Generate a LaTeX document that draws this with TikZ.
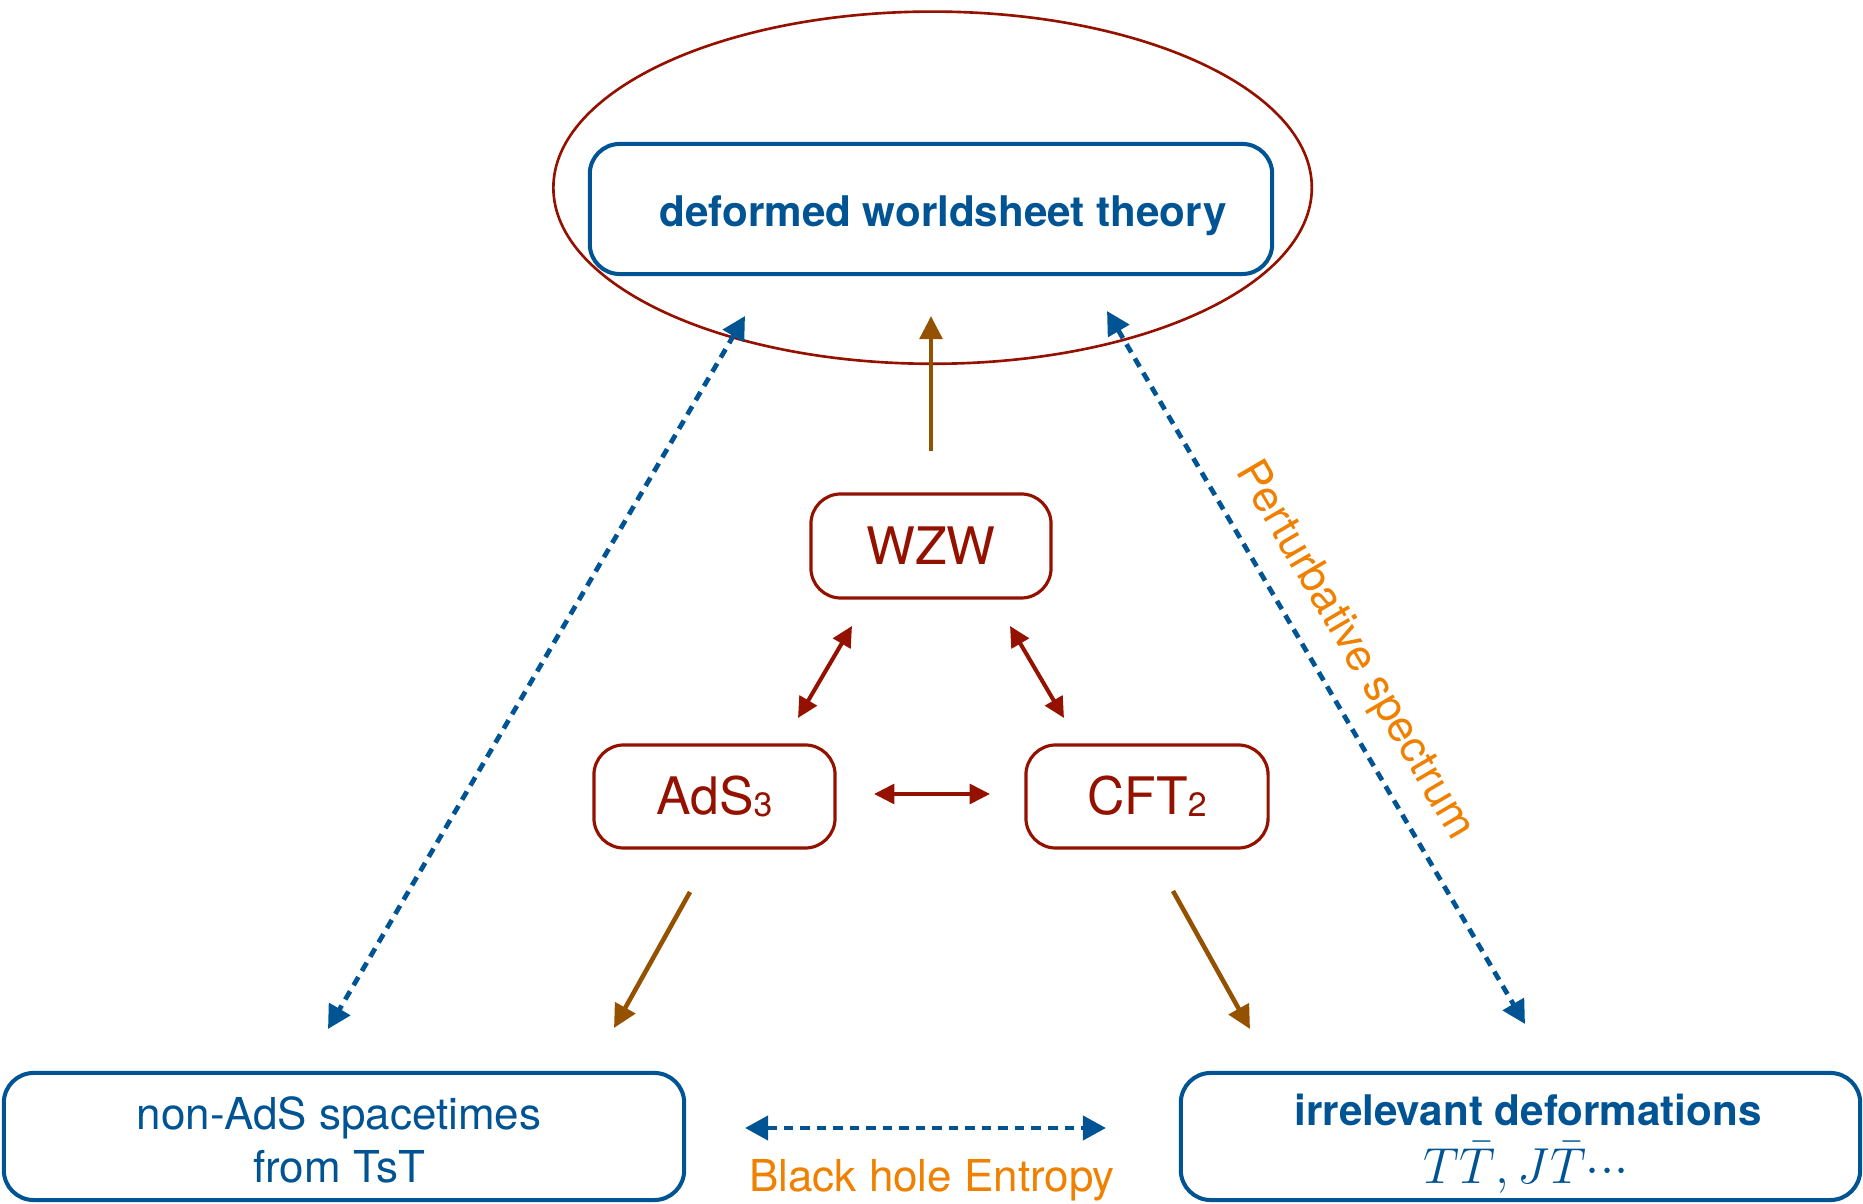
\documentclass[tikz,border=0pt]{standalone}
\usepackage{fontspec}
\setmainfont{TeX Gyre Heros}
\usetikzlibrary{arrows.meta,shapes.geometric}

\definecolor{ocean}{HTML}{005493}
\definecolor{cayenne}{HTML}{941100}
\definecolor{mocha}{HTML}{945200}
\definecolor{tangerine}{HTML}{F08000}

\tikzset{
  bluebox/.style={draw=ocean, line width=1.15pt, rounded corners=8.5pt,
    text=ocean, align=center, inner sep=0pt},
  redbox/.style={draw=cayenne, line width=0.9pt, rounded corners=8.5pt,
    text=cayenne, inner sep=0pt, minimum height=1.03cm,
    font=\fontsize{14.7}{17}\selectfont},
  halo/.style={draw=cayenne, line width=0.75pt, ellipse, inner sep=0pt},
  bluelink/.style={draw=ocean, line width=1.35pt, dash pattern=on 2.7pt off 2pt,
    {Triangle[length=6.6pt,width=6.8pt]}-{Triangle[length=6.6pt,width=6.8pt]}},
  redlink/.style={draw=cayenne, line width=1.15pt,
    {Triangle[length=5.8pt,width=5.6pt]}-{Triangle[length=5.8pt,width=5.6pt]}},
  brownlink/.style={draw=mocha, line width=1.3pt,
    -{Triangle[length=6.6pt,width=6.4pt]}},
  note/.style={text=tangerine, inner sep=0pt, font=\fontsize{12.5}{15}\selectfont},
}

\newcommand{\lowsub}[1]{\raisebox{-0.6pt}{\fontsize{9.6}{10}\selectfont #1}}
\newcommand{\tightdots}{{\cdotp}{\cdotp}{\cdotp}}

\begin{document}
\begin{tikzpicture}[x=0.01cm, y=-0.01cm]
\useasboundingbox (0,0) rectangle (1863,1204);

% ellipse around the worldsheet box
\node[halo, minimum width=7.58cm, minimum height=3.52cm] (halo) at (932.6,187.7) {};

% boxes
\node[bluebox, minimum width=6.82cm, minimum height=1.30cm] (ws) at (931,209) {};
\node[text=ocean, inner sep=0pt, font=\fontsize{12}{14}\selectfont\bfseries] (wstext) at (943,216) {deformed worldsheet theory};

\node[redbox, minimum width=2.40cm, minimum height=1.04cm] (wzw) at (931,546) {WZW};
\node[redbox, minimum width=2.41cm] (ads) at (714.5,796.5) {AdS\lowsub{3}};
\node[redbox, minimum width=2.42cm] (cft) at (1147,796.5) {CFT\lowsub{2}};

\node[bluebox, minimum width=6.80cm, minimum height=1.27cm] (tst) at (344,1136.5) {};
\node[text=ocean, inner sep=0pt, align=center, font=\fontsize{12.5}{15.2}\selectfont] (tsttext) at (339,1140)
  {non-AdS spacetimes\\from TsT};

\node[bluebox, minimum width=6.79cm, minimum height=1.27cm] (irr) at (1520.5,1136.5) {};
\node[text=ocean, inner sep=0pt, font=\fontsize{12}{14}\selectfont\bfseries] (irrtext) at (1528,1110)
  {irrelevant deformations};
\node[text=ocean, inner sep=0pt, font=\fontsize{14.5}{17}\selectfont] (irrmath) at (1526,1168)
  {$T\bar{T}, J\bar{T}\tightdots$};

% connector end points
\coordinate (wzwS) at (931,451);
\coordinate (wsS) at (931,316);
\coordinate (wzwL) at (852,626);
\coordinate (adsN) at (798,718);
\coordinate (wzwR) at (1010,626);
\coordinate (cftN) at (1064,718);
\coordinate (adsE) at (874,794);
\coordinate (cftW) at (990,794);
\coordinate (adsS) at (690,892);
\coordinate (tstN) at (614,1028);
\coordinate (cftS) at (1173,891);
\coordinate (irrN) at (1250,1029);
\coordinate (haloL) at (745,316);
\coordinate (tstT) at (328,1029);
\coordinate (haloR) at (1107,311);
\coordinate (irrT) at (1525,1024);
\coordinate (tstE) at (745,1128);
\coordinate (irrW) at (1106,1128);

% connectors
\draw[brownlink] (wzwS) -- (wsS);
\draw[redlink] (wzwL) -- (adsN);
\draw[redlink] (wzwR) -- (cftN);
\draw[redlink] (adsE) -- (cftW);
\draw[brownlink] (adsS) -- (tstN);
\draw[brownlink] (cftS) -- (irrN);
\draw[bluelink] (haloL) -- (tstT);
\draw[bluelink] (haloR) -- (irrT);
\draw[bluelink] (tstE) -- (irrW);

% labels
\node[note, rotate=-59.6] (pert) at (1354,651) {Perturbative spectrum};
\node[note] (bhe) at (932,1180) {Black hole Entropy};
\end{tikzpicture}
\end{document}
